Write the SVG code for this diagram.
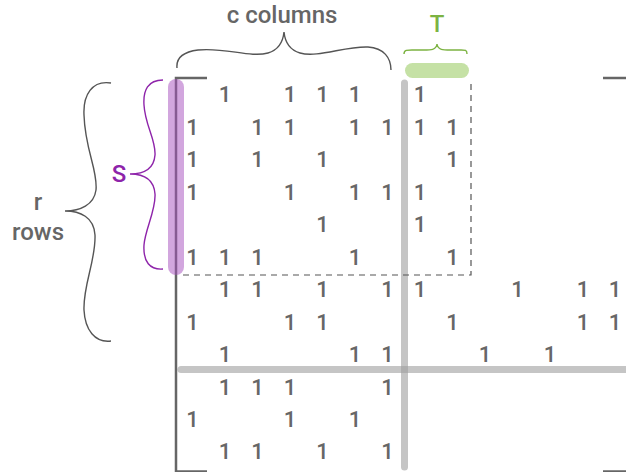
<svg xmlns="http://www.w3.org/2000/svg" width="626" height="472" viewBox="0 0 626 472">
<style>
.one{font-family:Roboto,"Liberation Sans",sans-serif;font-size:22px;font-weight:500;fill:#676767;text-anchor:middle}
.lbl{font-family:Roboto,"Liberation Sans",sans-serif;font-size:24px;font-weight:500;text-anchor:middle}
.frame{stroke:#666;stroke-width:2.5;fill:none}
.grid{stroke:#9e9e9e;stroke-opacity:0.6;stroke-width:7;stroke-linecap:round;fill:none}
.brace{fill:none;stroke-width:1.4}
</style>
<rect width="626" height="472" fill="#fff"/>
<g id="separators">
<line class="grid" x1="404.5" y1="83" x2="404.5" y2="467"/>
<line class="grid" x1="181" y1="369.5" x2="640" y2="369.5" stroke-linecap="butt"/>
</g>
<g id="frame">
<path class="frame" d="M207,78 H176 V472"/>
<line class="frame" x1="603" y1="78" x2="626" y2="78"/>
<line class="frame" x1="176" y1="471.5" x2="207" y2="471.5" stroke-width="2"/>
<line class="frame" x1="603" y1="471.5" x2="626" y2="471.5" stroke-width="2"/>
</g>
<g id="S-highlight">
<rect x="168" y="79" width="16" height="196" rx="8" fill="#a64dbd" fill-opacity="0.5"/>
</g>
<g id="T-highlight">
<rect x="405" y="63" width="64" height="15" rx="7.5" fill="#c5e1a5"/>
</g>
<g id="submatrix">
<path d="M183,275 H471 V80" fill="none" stroke="#555" stroke-width="1.2" stroke-dasharray="6,5"/>
</g>
<g id="braces">
<path class="brace" stroke="#555" d="M177,68 C176,58 182,52 198,50 C225,47 250,58 268,53 C278,50 283,42 284,32 C285,42 290,50 300,53 C318,58 345,46 368,47 C384,48 391,58 391,70"/>
<path class="brace" stroke="#7cb342" stroke-width="1.6" d="M404,54 C404,49 408,50 418,50 C430,50 436,51 437,44 C438,51 444,50 456,50 C465,50 467,49 467,54"/>
<path class="brace" stroke="#8e24aa" stroke-width="1.5" d="M163,80 C148,80 143,90 144,105 C145,125 156,140 155,155 C154,168 145,174 130,174 C145,174 154,180 155,194 C156,210 145,230 144,245 C143,262 150,270 163,269"/>
<path class="brace" stroke="#555" d="M111,83 C92,80 83,95 84,115 C85,150 98,170 96,190 C94,205 80,211 65,211 C80,211 94,217 95,235 C96,260 83,285 84,310 C85,330 95,343 111,341"/>
</g>
<g id="labels">
<text class="lbl" x="282" y="23" fill="#666">c columns</text>
<text class="lbl" x="437" y="32" fill="#7cb342">T</text>
<text class="lbl" x="119" y="182" fill="#8e24aa">S</text>
<text class="lbl" x="38" y="210" fill="#666">r</text>
<text class="lbl" x="38" y="240" fill="#666">rows</text>
</g>
<g id="matrix">
<text class="one" y="102"><tspan x="225">1</tspan><tspan x="290">1</tspan><tspan x="322.5">1</tspan><tspan x="355">1</tspan><tspan x="420">1</tspan></text>
<text class="one" y="134.5"><tspan x="192.5">1</tspan><tspan x="257.5">1</tspan><tspan x="290">1</tspan><tspan x="355">1</tspan><tspan x="387.5">1</tspan><tspan x="420">1</tspan><tspan x="452.5">1</tspan></text>
<text class="one" y="167"><tspan x="192.5">1</tspan><tspan x="257.5">1</tspan><tspan x="322.5">1</tspan><tspan x="452.5">1</tspan></text>
<text class="one" y="199.5"><tspan x="192.5">1</tspan><tspan x="290">1</tspan><tspan x="355">1</tspan><tspan x="387.5">1</tspan><tspan x="420">1</tspan></text>
<text class="one" y="232"><tspan x="322.5">1</tspan><tspan x="420">1</tspan></text>
<text class="one" y="264.5"><tspan x="192.5">1</tspan><tspan x="225">1</tspan><tspan x="257.5">1</tspan><tspan x="355">1</tspan><tspan x="452.5">1</tspan></text>
<text class="one" y="297"><tspan x="225">1</tspan><tspan x="257.5">1</tspan><tspan x="322.5">1</tspan><tspan x="387.5">1</tspan><tspan x="420">1</tspan><tspan x="517.5">1</tspan><tspan x="583">1</tspan><tspan x="615">1</tspan></text>
<text class="one" y="329.5"><tspan x="192.5">1</tspan><tspan x="290">1</tspan><tspan x="322.5">1</tspan><tspan x="452.5">1</tspan><tspan x="583">1</tspan><tspan x="615">1</tspan></text>
<text class="one" y="362"><tspan x="225">1</tspan><tspan x="355">1</tspan><tspan x="387.5">1</tspan><tspan x="485">1</tspan><tspan x="550">1</tspan></text>
<text class="one" y="394.5"><tspan x="225">1</tspan><tspan x="257.5">1</tspan><tspan x="290">1</tspan><tspan x="387.5">1</tspan></text>
<text class="one" y="427"><tspan x="192.5">1</tspan><tspan x="290">1</tspan><tspan x="355">1</tspan></text>
<text class="one" y="459"><tspan x="225">1</tspan><tspan x="257.5">1</tspan><tspan x="322.5">1</tspan><tspan x="387.5">1</tspan></text>
</g>
</svg>
